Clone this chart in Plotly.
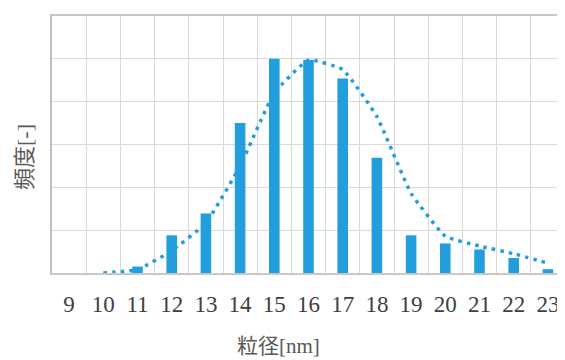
import plotly.graph_objects as go

categories = [str(v) for v in range(9, 24)]
bar_values = [None, None, 0.15, 0.88, 1.39, 3.50, 5.00, 4.97, 4.54, 2.69, 0.88, 0.69, 0.55, 0.35, 0.09]

trend_x = [str(v) for v in range(10, 24)]
trend_values = [0.0, 0.08, 0.52, 1.17, 2.50, 4.20, 4.97, 4.75, 3.65, 1.86, 0.86, 0.63, 0.45, 0.23]

blue = "#239EDD"
fam = "Liberation Serif, Noto Sans CJK JP, serif"

# page body has an 8px default margin; figure is sized/offset to compensate
OFF = 8
PLOT_L, PLOT_T, PLOT_B = 52, 16, 273
W, H = 565 - OFF, 360 - OFF

fig = go.Figure()
fig.add_trace(go.Bar(x=categories, y=bar_values, marker=dict(color=blue, line=dict(width=0)),
                     showlegend=False, hoverinfo="skip"))
fig.add_trace(go.Scatter(x=trend_x, y=trend_values, mode="lines",
                         line=dict(color=blue, width=3.5, dash="3.5px,5.1px", shape="spline", smoothing=0.4),
                         showlegend=False, hoverinfo="skip"))

pw = 565 - PLOT_L
ph = PLOT_B - PLOT_T

fig.update_layout(
    width=W, height=H,
    margin=dict(l=PLOT_L - OFF, r=0, t=PLOT_T - OFF, b=H - (PLOT_B - OFF), autoexpand=False),
    paper_bgcolor="white", plot_bgcolor="white",
    bargap=0.69,
    font=dict(family=fam, color="#404040"),
    xaxis=dict(type="category", categoryorder="array", categoryarray=categories,
               tickson="boundaries", showgrid=True, gridcolor="#D9D9D9", gridwidth=1.3,
               showline=True, linecolor="#C8C8C8", linewidth=1.5, mirror=True,
               ticks="", tickfont=dict(family=fam, size=23, color="#404040"),
               ticklabelstandoff=10, range=[-0.5, 14.5], fixedrange=True, automargin=False),
    yaxis=dict(range=[0, 6], dtick=1, showgrid=True, gridcolor="#D9D9D9", gridwidth=1.3,
               showline=True, linecolor="#BFBFBF", linewidth=1.5,
               showticklabels=False, ticks="", zeroline=False, fixedrange=True, automargin=False),
    annotations=[
        dict(text="粒径[nm]", xref="paper", yref="paper", x=(278 - PLOT_L) / pw, y=(PLOT_B - 346) / ph,
             xanchor="center", yanchor="middle", showarrow=False,
             font=dict(family=fam, size=21, color="#595959")),
        dict(text="頻度[-]", xref="paper", yref="paper", x=(24 - PLOT_L) / pw, y=(PLOT_B - 157) / ph,
             xanchor="center", yanchor="middle", showarrow=False, textangle=-90,
             font=dict(family=fam, size=22, color="#595959")),
    ],
)

fig.write_html("out.html")
